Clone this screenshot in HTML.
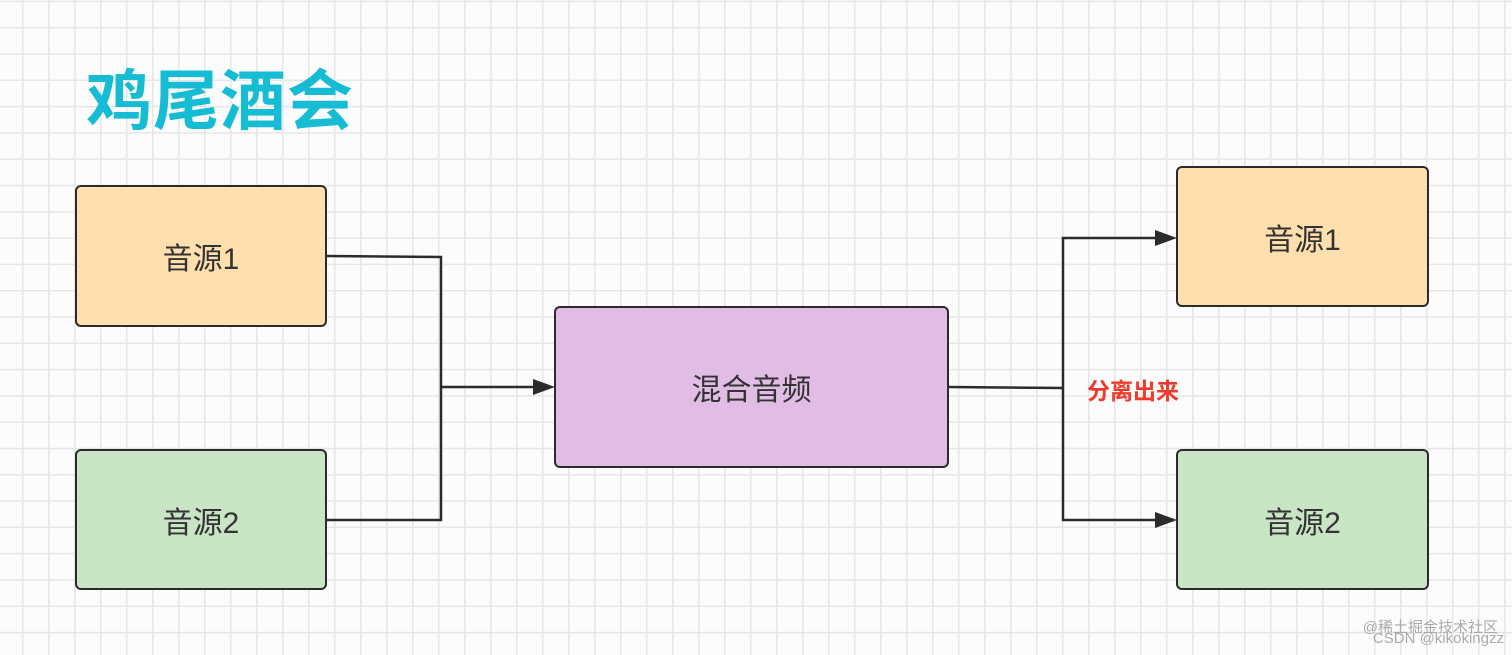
<!DOCTYPE html>
<html><head><meta charset="utf-8"><style>
html,body{margin:0;padding:0}
body{width:1512px;height:655px;position:relative;overflow:hidden;background-color:#fcfcfc;
background-image:linear-gradient(#e6e6e6 1.5px,transparent 1.5px),linear-gradient(90deg,#e6e6e6 1.5px,transparent 1.5px);
background-size:26px 26.3px;background-position:22px 27px;
font-family:"Liberation Sans","Noto Sans CJK SC",sans-serif}
.t{position:absolute;left:86px;top:48px;font-size:66px;font-weight:bold;color:#16bcd4;letter-spacing:1px}
.b{position:absolute;box-sizing:border-box;border:2.5px solid #2b2b2b;border-radius:6px;display:flex;align-items:center;justify-content:center;font-size:30px;color:#333}
.o{background:#ffdfad}.g{background:#c9e5c6}.p{background:#e1bde6}
.lbl{position:absolute;left:1087px;top:372px;font-size:23px;font-weight:bold;color:#ee3a2c}
.wm{position:absolute;right:8px;font-size:15px;color:#aaa}
</style></head><body>
<div class="t">鸡尾酒会</div>
<div class="b o" style="left:75px;top:185px;width:252px;height:142px">音源1</div>
<div class="b g" style="left:75px;top:449px;width:252px;height:141px">音源2</div>
<div class="b p" style="left:554px;top:306px;width:395px;height:162px">混合音频</div>
<div class="b o" style="left:1176px;top:166px;width:253px;height:141px">音源1</div>
<div class="b g" style="left:1176px;top:449px;width:253px;height:141px">音源2</div>
<svg width="1512" height="655" style="position:absolute;left:0;top:0">
<g fill="none" stroke="#2b2b2b" stroke-width="2.5">
<polyline points="327,256 441,257 441,520 327,520"/>
<line x1="441" y1="387" x2="536" y2="387"/>
<polyline points="949,387 1063,388"/>
<polyline points="1157,238 1063,238 1063,520 1157,520"/>
</g>
<g fill="#2b2b2b">
<polygon points="555,387 533,379 533,395"/>
<polygon points="1177,238 1155,230 1155,246"/>
<polygon points="1177,520 1155,512 1155,528"/>
</g>
</svg>
<div class="lbl">分离出来</div>
<div class="wm" style="top:616px;right:14px">@稀土掘金技术社区</div>
<div class="wm" style="top:630px">CSDN @kikokingzz</div>
</body></html>
